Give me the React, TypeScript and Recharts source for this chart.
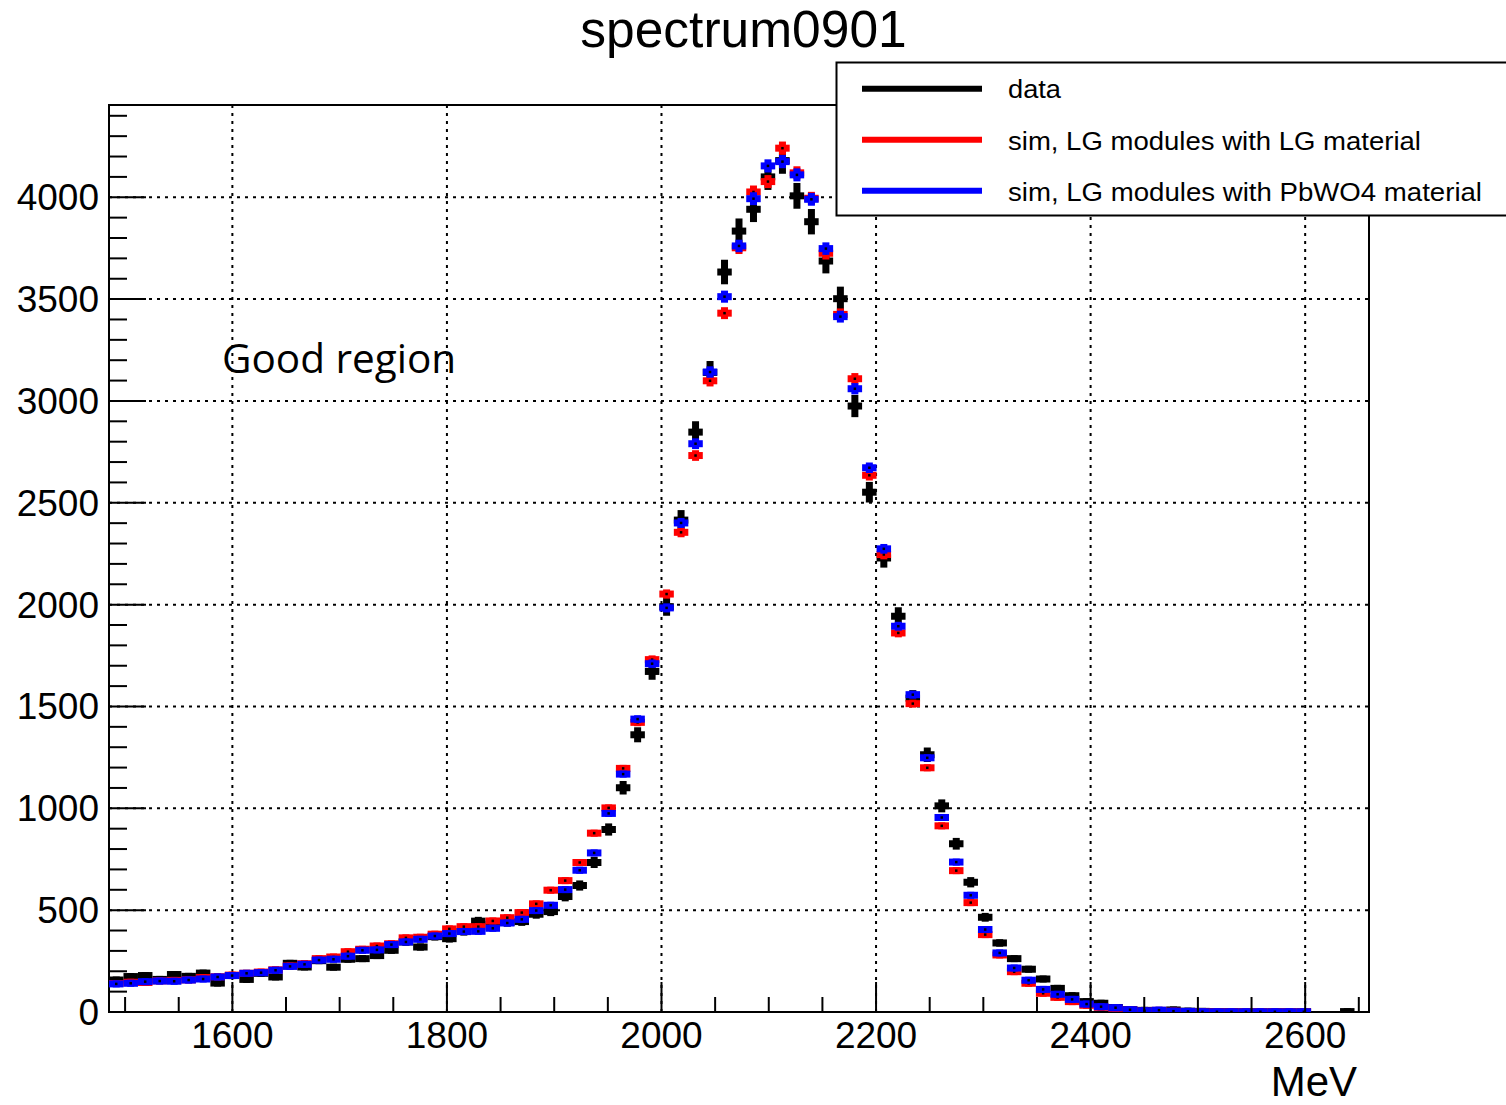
import { ScatterChart, Scatter, XAxis, YAxis, CartesianGrid, ReferenceArea, Legend, Customized } from 'recharts';

// histogram binning: 13.5 MeV bins, visible range 1485 - 2659.5 MeV (87 bins)
const BIN_LOW = 1485;
const BIN_W = 13.5;
const X_MIN = 1485;
const X_MAX = 2659.5;
const Y_MAX = 4453;

// counts per bin
const dataCounts = [
    157, 174, 179, 160, 184, 175, 191, 142, 179, 160,
    190, 172, 239, 221, 252, 220, 259, 262, 277, 303,
    344, 319, 370, 360, 395, 446, 430, 440, 444, 480,
    493, 567, 621, 734, 896, 1101, 1361, 1672, 1990, 2415,
    2847, 3140, 3633, 3834, 3941, 4100, 4180, 4007, 3880, 3687,
    3502, 2975, 2552, 2229, 1943, 1541, 1263, 1012, 826, 637,
    465, 339, 262, 210, 162, 116, 80, 51, 43, 22,
    12, 8, 6, 10, 4, 3, 2, 2, 1, 1,
    1, 1, 1, 0, 0, 2, 0,
];

const simLG = [
    140, 146, 145, 153, 155, 158, 169, 173, 181, 190,
    196, 207, 226, 237, 262, 270, 296, 308, 324, 335,
    364, 367, 382, 408, 419, 419, 447, 463, 488, 531,
    598, 645, 734, 878, 1002, 1196, 1422, 1730, 2052, 2355,
    2732, 3099, 3431, 3752, 4026, 4077, 4241, 4120, 3995, 3725,
    3425, 3109, 2635, 2246, 1861, 1514, 1199, 914, 694, 537,
    380, 280, 198, 141, 92, 72, 51, 33, 23, 18,
    10, 5, 8, 4, 2, 1, 1, 1, 1, 1,
    1, 1, 1, 0, 0, 0, 0,
];

const simPbWO4 = [
    138, 141, 149, 152, 151, 157, 162, 172, 179, 190,
    193, 205, 224, 234, 255, 259, 274, 303, 305, 331,
    344, 357, 373, 385, 395, 396, 411, 437, 455, 498,
    524, 601, 696, 781, 975, 1168, 1438, 1710, 1984, 2401,
    2790, 3142, 3512, 3761, 3993, 4154, 4175, 4110, 3990, 3748,
    3414, 3060, 2672, 2274, 1894, 1558, 1248, 955, 736, 573,
    405, 290, 216, 156, 111, 87, 62, 39, 26, 21,
    11, 6, 9, 4, 3, 1, 1, 1, 1, 1,
    1, 1, 1, 0, 0, 0, 0,
];

const xTicks = [
    1500, 1550, 1600, 1650, 1700, 1750, 1800, 1850, 1900, 1950, 2000, 2050,
    2100, 2150, 2200, 2250, 2300, 2350, 2400, 2450, 2500, 2550, 2600, 2650,
];
const xLabels = [1600, 1800, 2000, 2200, 2400, 2600];
const yTicks = [
    0, 100, 200, 300, 400, 500, 600, 700, 800, 900, 1000, 1100, 1200, 1300, 1400,
    1500, 1600, 1700, 1800, 1900, 2000, 2100, 2200, 2300, 2400, 2500, 2600, 2700,
    2800, 2900, 3000, 3100, 3200, 3300, 3400, 3500, 3600, 3700, 3800, 3900, 4000,
    4100, 4200, 4300, 4400,
];
const yLabels = [0, 500, 1000, 1500, 2000, 2500, 3000, 3500, 4000];

const legendItems = [
    { label: 'data', color: '#000000', textW: 53 },
    { label: 'sim, LG modules with LG material', color: '#ff0000', textW: 413 },
    { label: 'sim, LG modules with PbWO4 material', color: '#0000ff', textW: 474 },
];

// layout (page pixels)
const W = 1506;
const H = 1105;
const PLOT_LEFT = 109;
const PLOT_TOP = 105;
const PLOT_RIGHT = 1369;
const PLOT_BOTTOM = 1012;
const Y_AXIS_W = 100;
const X_AXIS_H = 60;

const PX_PER_MEV = (PLOT_RIGHT - PLOT_LEFT) / (X_MAX - X_MIN);
const PX_PER_COUNT = (PLOT_BOTTOM - PLOT_TOP) / Y_MAX;
const BIN_PX = BIN_W * PX_PER_MEV;
const LINE = 7;

const FONT = "'Liberation Sans', Arial, Helvetica, sans-serif";

const toPoints = (counts: number[]) =>
    counts
        .map((v, i) => ({ x: BIN_LOW + (i + 0.5) * BIN_W, y: v }))
        .filter(p => p.y > 0);

// ROOT-like error marker: bin-wide bar + vertical error bar
const makeMarker = (color: string, errScale: number, dot: boolean) => (props: any) => {
    const { cx, cy, payload } = props;
    if (cx == null || cy == null) return <g />;
    const half = Math.max(LINE / 2, errScale * Math.sqrt(payload.y) * PX_PER_COUNT);
    return (
        <g>
            <rect x={cx - BIN_PX / 2} y={cy - LINE / 2} width={BIN_PX} height={LINE} fill={color} />
            <rect x={cx - LINE / 2} y={cy - half} width={LINE} height={half * 2} fill={color} />
            {dot && <rect x={cx - 1.25} y={cy - 1.25} width={2.5} height={2.5} fill="#000" />}
        </g>
    );
};

const XTick = (props: any) => {
    const { x, y, payload } = props;
    const major = xLabels.includes(payload.value);
    return (
        <g>
            <line x1={x} x2={x} y1={y} y2={y - (major ? 30 : 15)} stroke="#000" strokeWidth={2} />
            {major && (
                <text x={x} y={y + 36} textAnchor="middle" fontFamily={FONT} fontSize={37} fill="#000">
                    {payload.value}
                </text>
            )}
        </g>
    );
};

const YTick = (props: any) => {
    const { x, y, payload } = props;
    const major = yLabels.includes(payload.value);
    return (
        <g>
            <line x1={x} x2={x + (major ? 37 : 18)} y1={y} y2={y} stroke="#000" strokeWidth={2} />
            {major && (
                <text x={x - 10} y={y + 13} textAnchor="end" fontFamily={FONT} fontSize={37} fill="#000">
                    {payload.value}
                </text>
            )}
        </g>
    );
};

const Texts = () => (
    <g>
        <text x={743.5} y={47} textAnchor="middle" fontFamily={FONT} fontSize={51.5} fill="#000">spectrum0901</text>
        <text x={222} y={373} fontFamily="'Open Sans', 'Noto Sans', sans-serif" fontSize={40.5} fill="#000">Good region</text>
        <text x={1357} y={1096} textAnchor="end" fontFamily={FONT} fontSize={42} fill="#000">MeV</text>
    </g>
);

const LegendBox = () => (
    <svg width={680} height={160} style={{ display: 'block' }}>
        <rect x={1.5} y={1.5} width={700} height={153} fill="#fff" stroke="#000" strokeWidth={2} />
        {legendItems.map((item, i) => (
            <g key={item.label}>
                <line x1={27} x2={147} y1={27.7 + i * 51} y2={27.7 + i * 51} stroke={item.color} strokeWidth={6} />
                <text
                    x={173}
                    y={37.3 + i * 51.2}
                    fontFamily={FONT}
                    fontSize={26}
                    textLength={item.textW}
                    lengthAdjust="spacingAndGlyphs"
                    fill="#000"
                >
                    {item.label}
                </text>
            </g>
        ))}
    </svg>
);

const App = () => {
    return (
        <div style={{ position: 'absolute', left: 0, top: 0, width: W, height: H, overflow: 'hidden', background: '#fff' }}>
            <ScatterChart
                width={W}
                height={H}
                margin={{
                    top: PLOT_TOP,
                    right: W - PLOT_RIGHT,
                    bottom: H - PLOT_BOTTOM - X_AXIS_H,
                    left: PLOT_LEFT - Y_AXIS_W,
                }}
            >
                <CartesianGrid
                    horizontalValues={[500, 1000, 1500, 2000, 2500, 3000, 3500, 4000]}
                    verticalValues={xLabels}
                    stroke="#000"
                    strokeWidth={2}
                    strokeDasharray="3 5"
                />
                <XAxis
                    type="number"
                    dataKey="x"
                    domain={[X_MIN, X_MAX]}
                    allowDataOverflow
                    ticks={xTicks}
                    interval={0}
                    tick={<XTick />}
                    tickLine={false}
                    axisLine={false}
                    tickSize={0}
                    tickMargin={0}
                    height={X_AXIS_H}
                />
                <YAxis
                    type="number"
                    dataKey="y"
                    domain={[0, Y_MAX]}
                    allowDataOverflow
                    ticks={yTicks}
                    interval={0}
                    tick={<YTick />}
                    tickLine={false}
                    axisLine={false}
                    tickSize={0}
                    tickMargin={0}
                    width={Y_AXIS_W}
                />
                <ReferenceArea x1={X_MIN} x2={X_MAX} y1={0} y2={Y_MAX} fill="none" stroke="#000" strokeWidth={2} />

                {/* data first, then the two simulations on top */}
                <Scatter name="data" data={toPoints(dataCounts)} dataKey="y" shape={makeMarker('#000000', 1, false)} isAnimationActive={false} />
                <Scatter name="LG" data={toPoints(simLG)} dataKey="y" shape={makeMarker('#ff0000', 0.5, true)} isAnimationActive={false} />
                <Scatter name="PbWO4" data={toPoints(simPbWO4)} dataKey="y" shape={makeMarker('#0000ff', 0.5, true)} isAnimationActive={false} />

                <Customized component={Texts} />
                <Legend
                    layout="horizontal"
                    verticalAlign="middle"
                    align="center"
                    width={680}
                    height={160}
                    wrapperStyle={{ left: 835, top: 61, width: 680, height: 160 }}
                    content={() => <LegendBox />}
                />
            </ScatterChart>
        </div>
    );
};

export default App;
